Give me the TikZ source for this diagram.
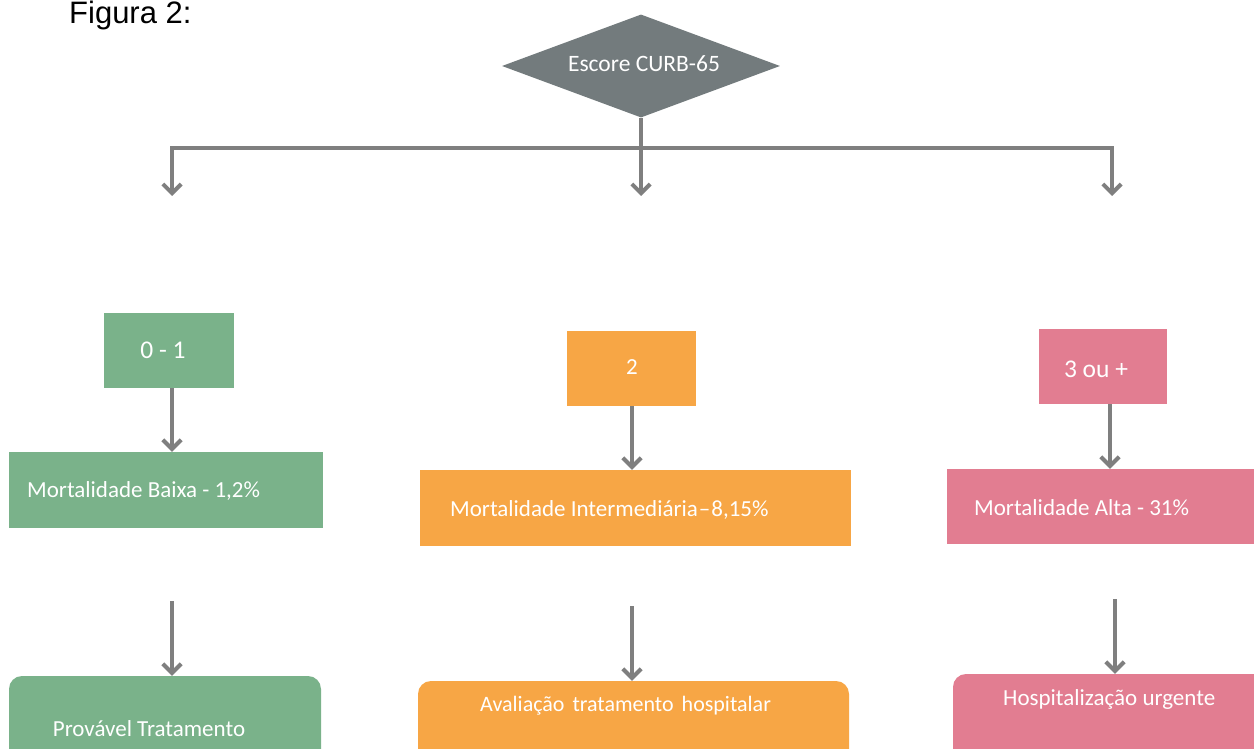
\documentclass[tikz,border=0pt]{standalone}
\usepackage{fontspec}
\setmainfont{Carlito}
\newfontfamily\arialfont{Liberation Sans}
\usetikzlibrary{shapes.geometric,arrows.meta}
\definecolor{cgreen}{HTML}{7AB28A}
\definecolor{corange}{HTML}{F7A645}
\definecolor{cpink}{HTML}{E27D91}
\definecolor{cdiam}{HTML}{737B7D}
\definecolor{cline}{HTML}{7F7F7F}
\tikzset{
  box/.style={rectangle, inner sep=0pt, draw=none},
  rbox/.style={rectangle, rounded corners=13pt, inner sep=0pt, draw=none},
  txt/.style={text=white, inner sep=0pt, font=\fontsize{23}{27}\selectfont},
  bigtxt/.style={txt, font=\fontsize{25.5}{29}\selectfont},
  ln/.style={draw=cline, line width=4pt},
  arr/.style={ln, -{Straight Barb[angle=90:13pt, line width=4pt]}},
  diam/.style={diamond, fill=cdiam, inner sep=0pt, minimum width=278pt, minimum height=103pt, text=white}
}
\begin{document}
\begin{tikzpicture}[x=1pt,y=-1pt]
\clip (0,0) rectangle (1254,749);
\fill[white] (0,0) rectangle (1254,749);
\node[anchor=west, inner sep=0pt, font=\arialfont\fontsize{31}{35}\selectfont] (fig) at (69,15) {Figura 2:};
% diamond
\node[diam] (d) at (641,66) {};
\node[txt, font=\fontsize{23.5}{27}\selectfont] (dt) at (644,64) {Escore CURB-65};
% junction
\coordinate (j) at (641,148);
\coordinate (jl) at (172,148);
\coordinate (jr) at (1112,148);
\coordinate (el) at (172,196);
\coordinate (ec) at (641,196);
\coordinate (er) at (1112,196);
\draw[ln] (d.south) -- (j);
\draw[ln, line cap=rect] (jl) -- (jr);
\draw[arr] (jl) -- (el);
\draw[arr] (j) -- (ec);
\draw[arr] (jr) -- (er);
% green column
\node[box, fill=cgreen, minimum width=130pt, minimum height=75pt] (g1) at (169,350.5) {};
\node[box, fill=cgreen, minimum width=314pt, minimum height=76pt] (g2) at (166,490) {};
\node[rbox, fill=cgreen, minimum width=312pt, minimum height=104pt] (g3) at (165,728) {};
\node[bigtxt] (g1t) at (163,350) {0 - 1};
\node[txt, anchor=west] (g2t) at (27,491) {Mortalidade Baixa - 1,2\%};
\node[txt] (g3t) at (149,729) {Provável Tratamento};
\coordinate (g1s) at (172,388);
\coordinate (g2s) at (172,601);
\draw[arr] (g1s) -- (g1s |- g2.north);
\draw[arr] (g2s) -- (g2s |- g3.north);
% orange column
\node[box, fill=corange, minimum width=129pt, minimum height=75pt] (o1) at (631.5,368.5) {};
\node[box, fill=corange, minimum width=431pt, minimum height=76pt] (o2) at (635.5,508) {};
\node[rbox, fill=corange, minimum width=431pt, minimum height=98pt] (o3) at (633.5,730) {};
\node[txt] (o1t) at (632,367) {2};
\node[txt, anchor=west] (o2t) at (450,510) {Mortalidade Intermediária\kern1pt–\kern1pt8,15\%};
\node[txt, anchor=west, font=\fontsize{22}{26}\selectfont] (o3t) at (480,706) {Avaliação\hspace{3pt} tratamento\hspace{3pt} hospitalar};
\coordinate (o1s) at (632,406);
\coordinate (o2s) at (632,606);
\draw[arr] (o1s) -- (o1s |- o2.north);
\draw[arr] (o2s) -- (o2s |- o3.north);
% pink column
\node[box, fill=cpink, minimum width=128pt, minimum height=75pt] (p1) at (1103,366.5) {};
\node[box, fill=cpink, minimum width=313pt, minimum height=75pt] (p2) at (1103.5,506.5) {};
\node[rbox, fill=cpink, minimum width=327pt, minimum height=106pt] (p3) at (1116.5,727) {};
\node[bigtxt] (p1t) at (1096,369) {3 ou +};
\node[txt, anchor=west] (p2t) at (974,508) {Mortalidade Alta - 31\%};
\node[txt, anchor=west] (p3t) at (1003,699) {Hospitalização urgente};
\coordinate (p1s) at (1110,404);
\coordinate (p2s) at (1115,599);
\draw[arr] (p1s) -- (p1s |- p2.north);
\draw[arr] (p2s) -- (p2s |- p3.north);
\end{tikzpicture}
\end{document}
